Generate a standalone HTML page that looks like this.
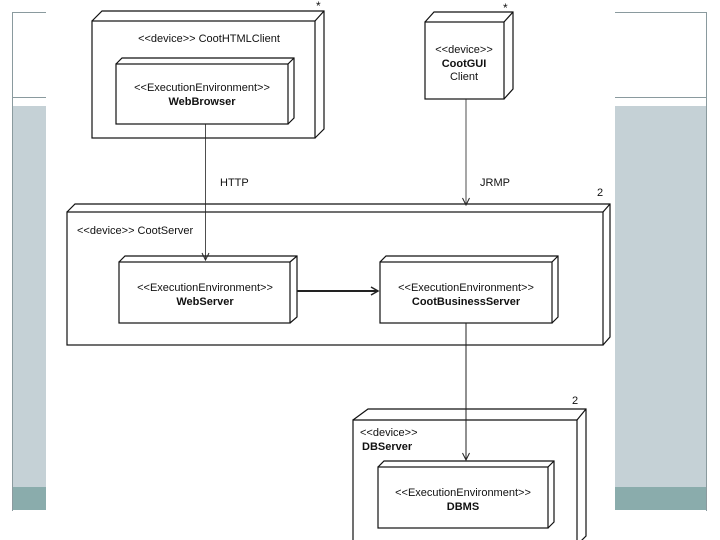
<!DOCTYPE html>
<html><head><meta charset="utf-8"><style>
html,body{margin:0;padding:0;background:#fff;}
svg{display:block;font-family:"Liberation Sans",Arial,sans-serif;}
</style></head><body>
<svg width="720" height="540" viewBox="0 0 720 540" xmlns="http://www.w3.org/2000/svg">
<rect width="720" height="540" fill="#fff"/>
<rect x="12" y="106" width="34" height="381" fill="#c5d1d6"/>
<rect x="12" y="487" width="34" height="23" fill="#8aacac"/>
<rect x="615" y="106" width="92" height="381" fill="#c5d1d6"/>
<rect x="615" y="487" width="92" height="23" fill="#8aacac"/>
<g stroke="#8a9a9e" stroke-width="1">
<line x1="12.5" y1="12" x2="12.5" y2="511"/>
<line x1="12" y1="12.5" x2="46" y2="12.5"/>
<line x1="12" y1="97.5" x2="46" y2="97.5"/>
<line x1="706.5" y1="12" x2="706.5" y2="511"/>
<line x1="615" y1="12.5" x2="707" y2="12.5"/>
<line x1="615" y1="97.5" x2="707" y2="97.5"/>
</g>
<rect x="46" y="0" width="569" height="540" fill="#fff"/>

<g fill="none" stroke="#111" stroke-width="1.2">
<rect x="92" y="21" width="223" height="117"/>
<polyline points="92,21 102,11 324,11 324,129 315,138"/><line x1="315" y1="21" x2="324" y2="11"/>
<rect x="116" y="64" width="172" height="60"/>
<polyline points="116,64 122,58 294,58 294,118 288,124"/><line x1="288" y1="64" x2="294" y2="58"/>
<rect x="425" y="22" width="79" height="77"/>
<polyline points="425,22 434,12 513,12 513,89 504,99"/><line x1="504" y1="22" x2="513" y2="12"/>
<rect x="67" y="212" width="536" height="133"/>
<polyline points="67,212 75,204 610,204 610,337 603,345"/><line x1="603" y1="212" x2="610" y2="204"/>
<rect x="119" y="262" width="171" height="61"/>
<polyline points="119,262 125,256 297,256 297,317 290,323"/><line x1="290" y1="262" x2="297" y2="256"/>
<rect x="380" y="262" width="172" height="61"/>
<polyline points="380,262 386,256 558,256 558,317 552,323"/><line x1="552" y1="262" x2="558" y2="256"/>
<polyline points="353,545 353,420 577,420 577,545"/>
<polyline points="353,420 368,409 586,409 586,536 577,545"/><line x1="577" y1="420" x2="586" y2="409"/>
<rect x="378" y="467" width="170" height="61"/>
<polyline points="378,467 384,461 554,461 554,522 548,528"/><line x1="548" y1="467" x2="554" y2="461"/>
</g>
<g stroke="#222" fill="none">
<line x1="205.5" y1="124" x2="205.5" y2="260" stroke-width="0.8"/>
<polyline points="202,253 205.5,260 209,253" stroke-width="1"/>
<line x1="466" y1="99" x2="466" y2="205" stroke-width="0.8"/>
<polyline points="462.5,198 466,205 469.5,198" stroke-width="1"/>
<line x1="466" y1="323" x2="466" y2="460" stroke-width="1"/>
<polyline points="462.5,453 466,460 469.5,453" stroke-width="1"/>
<line x1="297" y1="291" x2="378" y2="291" stroke-width="2"/>
<polyline points="371,287 378,291 371,295" stroke-width="1.5"/>
</g>
<g fill="#111" font-size="11">
<text x="209" y="42" text-anchor="middle">&lt;&lt;device&gt;&gt; CootHTMLClient</text>
<text x="202" y="91" text-anchor="middle">&lt;&lt;ExecutionEnvironment&gt;&gt;</text>
<text x="202" y="105" text-anchor="middle" font-weight="bold">WebBrowser</text>
<text x="316" y="10" font-size="12">*</text>
<text x="503" y="12" font-size="12">*</text>
<text x="464" y="53" text-anchor="middle">&lt;&lt;device&gt;&gt;</text>
<text x="464" y="67" text-anchor="middle" font-weight="bold">CootGUI</text>
<text x="464" y="80" text-anchor="middle">Client</text>
<text x="220" y="186">HTTP</text>
<text x="480" y="186">JRMP</text>
<text x="597" y="196">2</text>
<text x="77" y="234">&lt;&lt;device&gt;&gt; CootServer</text>
<text x="205" y="291" text-anchor="middle">&lt;&lt;ExecutionEnvironment&gt;&gt;</text>
<text x="205" y="305" text-anchor="middle" font-weight="bold">WebServer</text>
<text x="466" y="291" text-anchor="middle">&lt;&lt;ExecutionEnvironment&gt;&gt;</text>
<text x="466" y="305" text-anchor="middle" font-weight="bold">CootBusinessServer</text>
<text x="572" y="404">2</text>
<text x="360" y="436">&lt;&lt;device&gt;&gt;</text>
<text x="362" y="450" font-weight="bold">DBServer</text>
<text x="463" y="496" text-anchor="middle">&lt;&lt;ExecutionEnvironment&gt;&gt;</text>
<text x="463" y="510" text-anchor="middle" font-weight="bold">DBMS</text>
</g>
</svg>
</body></html>
